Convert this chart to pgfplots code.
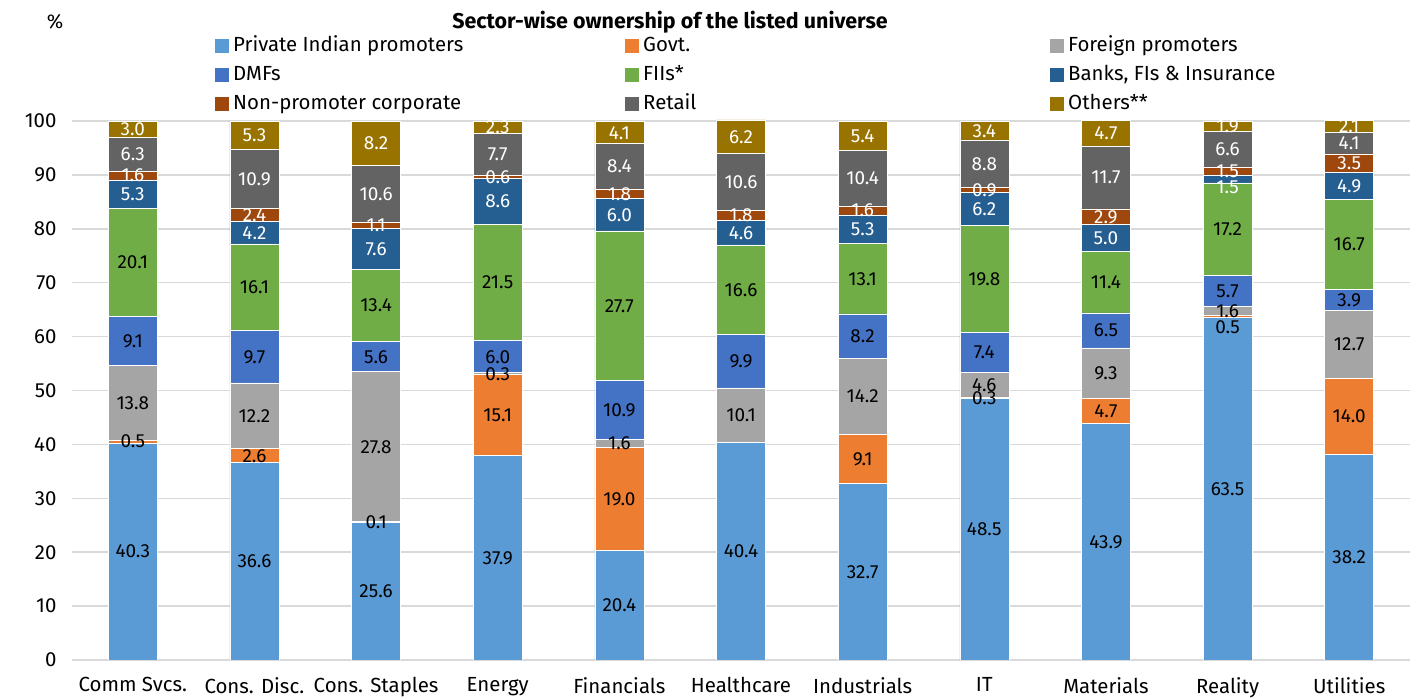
\documentclass[border=0pt]{standalone}
\usepackage{pgfplots}
\pgfplotsset{compat=1.18}
\usepackage{fontspec}
\setmainfont{Fira Sans}
\definecolor{cPriv}{HTML}{5B9BD5}
\definecolor{cGovt}{HTML}{ED7D31}
\definecolor{cFor}{HTML}{A5A5A5}
\definecolor{cDMF}{HTML}{4472C4}
\definecolor{cFII}{HTML}{70AD47}
\definecolor{cBank}{HTML}{255E91}
\definecolor{cNon}{HTML}{9E480E}
\definecolor{cRet}{HTML}{636363}
\definecolor{cOth}{HTML}{997300}
\definecolor{gridc}{HTML}{D9D9D9}
\protected\def\lowered#1#2{\raisebox{#1}{#2}}
\protected\def\nolabel{}
\begin{document}
\begin{tikzpicture}[x=1bp,y=1bp]
\path[use as bounding box] (0,0) rectangle (1421,699);
\node[font=\fontsize{21.5}{24}\selectfont\bfseries] at (670,677) {Sector-wise ownership of the listed universe};
\node[font=\fontsize{20}{24}\selectfont] at (55,677) {\%};
\begin{axis}[
  at={(72bp,39bp)}, anchor=south west,
  scale only axis, width=1338bp, height=540.6bp,
  ybar stacked, bar width=49bp,
  xmin=-0.5, xmax=10.5, ymin=0, ymax=100.3,
  xtick={0,...,10},
  xticklabels={Comm Svcs.,Cons. Disc.,Cons. Staples,Energy,Financials,Healthcare,Industrials,IT,Materials,Reality,Utilities},
  ytick={0,10,...,100},
  ymajorgrids, grid style={color=gridc, line width=1.5bp},
  axis line style={draw=none},
  major tick length=0pt,
  tick label style={font=\fontsize{20.5}{24}\selectfont},
  /pgf/number format/assume math mode=true,
  yticklabel style={anchor=east, xshift=-12bp},
  xticklabel style={anchor=north, yshift=-14bp},
  point meta=explicit symbolic,
  nodes near coords,
  every node near coord/.append style={anchor=center, font=\fontsize{19}{22}\selectfont, text height=13bp, text depth=0bp, inner sep=0pt},
  legend columns=3,
  legend cell align=left,
  legend image code/.code={\path[#1, draw=none] (0bp,-7bp) rectangle (14bp,7bp);},
  legend style={draw=none, fill=none, at={(0.10688,1.1545)}, anchor=north west,
    font=\fontsize{20.5}{24}\selectfont, inner sep=0pt, row sep=9bp,
    nodes={inner sep=0pt, text height=15bp, text depth=5bp},
    /tikz/every odd column/.append style={column sep=4bp},
    /tikz/every even column/.append style={column sep=0bp}},
]
\addplot[fill=cPriv, draw=white, line width=0.5bp, every node near coord/.append style={black}] coordinates {
(0,40.3)[40.3] (1,36.6)[36.6] (2,25.6)[25.6] (3,37.9)[37.9] (4,20.4)[20.4] (5,40.4)[40.4] (6,32.7)[32.7] (7,48.5)[48.5] (8,43.9)[43.9] (9,63.5)[63.5] (10,38.2)[38.2]};
\addlegendentry{\makebox[392bp][l]{Private Indian promoters}}
\addplot[fill=cGovt, draw=white, line width=0.5bp, every node near coord/.append style={black}] coordinates {
(0,0.5)[0.5] (1,2.6)[2.6] (2,0.1)[0.1] (3,15.1)[15.1] (4,19.0)[19.0] (5,0)[\nolabel] (6,9.1)[9.1] (7,0.3)[0.3] (8,4.7)[4.7] (9,0.5)[\lowered{-11bp}{0.5}] (10,14.0)[14.0]};
\addlegendentry{\makebox[407bp][l]{Govt.}}
\addplot[fill=cFor, draw=white, line width=0.5bp, every node near coord/.append style={black}] coordinates {
(0,13.8)[13.8] (1,12.2)[12.2] (2,27.8)[27.8] (3,0.3)[0.3] (4,1.6)[1.6] (5,10.1)[10.1] (6,14.2)[14.2] (7,4.6)[4.6] (8,9.3)[9.3] (9,1.6)[1.6] (10,12.7)[12.7]};
\addlegendentry{Foreign promoters}
\addplot[fill=cDMF, draw=white, line width=0.5bp, every node near coord/.append style={black}] coordinates {
(0,9.1)[9.1] (1,9.7)[9.7] (2,5.6)[5.6] (3,6.0)[6.0] (4,10.9)[10.9] (5,9.9)[9.9] (6,8.2)[8.2] (7,7.4)[7.4] (8,6.5)[6.5] (9,5.7)[5.7] (10,3.9)[3.9]};
\addlegendentry{DMFs}
\addplot[fill=cFII, draw=white, line width=0.5bp, every node near coord/.append style={black}] coordinates {
(0,20.1)[20.1] (1,16.1)[16.1] (2,13.4)[13.4] (3,21.5)[21.5] (4,27.7)[27.7] (5,16.6)[16.6] (6,13.1)[13.1] (7,19.8)[19.8] (8,11.4)[11.4] (9,17.2)[17.2] (10,16.7)[16.7]};
\addlegendentry{FIIs*}
\addplot[fill=cBank, draw=white, line width=0.5bp, every node near coord/.append style={white}] coordinates {
(0,5.3)[5.3] (1,4.2)[4.2] (2,7.6)[7.6] (3,8.6)[8.6] (4,6.0)[6.0] (5,4.6)[4.6] (6,5.3)[5.3] (7,6.2)[6.2] (8,5.0)[5.0] (9,1.5)[\lowered{-8bp}{1.5}] (10,4.9)[4.9]};
\addlegendentry{Banks, FIs \& Insurance}
\addplot[fill=cNon, draw=white, line width=0.5bp, every node near coord/.append style={white}] coordinates {
(0,1.6)[1.6] (1,2.4)[2.4] (2,1.1)[1.1] (3,0.6)[0.6] (4,1.8)[1.8] (5,1.8)[1.8] (6,1.6)[1.6] (7,0.9)[0.9] (8,2.9)[2.9] (9,1.5)[1.5] (10,3.5)[3.5]};
\addlegendentry{Non-promoter corporate}
\addplot[fill=cRet, draw=white, line width=0.5bp, every node near coord/.append style={white}] coordinates {
(0,6.3)[6.3] (1,10.9)[10.9] (2,10.6)[10.6] (3,7.7)[7.7] (4,8.4)[8.4] (5,10.6)[10.6] (6,10.4)[10.4] (7,8.8)[8.8] (8,11.7)[11.7] (9,6.6)[6.6] (10,4.1)[4.1]};
\addlegendentry{Retail}
\addplot[fill=cOth, draw=white, line width=0.5bp, every node near coord/.append style={white}] coordinates {
(0,3.0)[3.0] (1,5.3)[5.3] (2,8.2)[8.2] (3,2.3)[2.3] (4,4.1)[4.1] (5,6.2)[6.2] (6,5.4)[5.4] (7,3.4)[3.4] (8,4.7)[4.7] (9,1.9)[1.9] (10,2.1)[2.1]};
\addlegendentry{Others**}
\end{axis}
\end{tikzpicture}
\end{document}
